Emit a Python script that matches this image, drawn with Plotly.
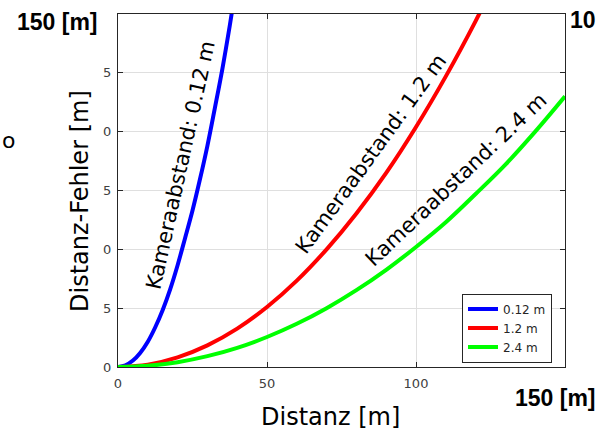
import plotly.graph_objects as go

# ---- data ----
distance_012 = [0, 2.5, 5, 7.5, 10, 12.5, 15, 17.5, 20, 22.5, 25, 27.5, 30, 32.5, 35, 37.5, 40]
error_012 = [0, 0.15, 0.55, 1.22, 2.15, 3.38, 4.85, 6.6, 8.65, 10.95, 13.3, 15.95, 18.8, 22.0, 25.3, 29.0, 33.0]

distance_12 = [0, 10, 20, 30, 40, 50, 60, 70, 80, 90, 100, 110, 120, 130]
error_12 = [0, 0.2, 0.82, 1.84, 3.26, 5.1, 7.34, 10.0, 13.05, 16.5, 20.4, 24.7, 29.4, 34.5]

distance_24 = [0, 10, 20, 30, 40, 50, 60, 70, 80, 90, 100, 110, 120, 130, 140, 150]
error_24 = [0, 0.1, 0.41, 0.92, 1.63, 2.55, 3.67, 5.0, 6.53, 8.26, 10.2, 12.3, 14.7, 17.2, 20.0, 23.0]

series_names = ["0.12 m", "1.2 m", "2.4 m"]
series_colors = ["#0000ff", "#ff0000", "#00ff00"]
curve_labels = ["Kameraabstand: 0.12 m", "Kameraabstand: 1.2 m", "Kameraabstand: 2.4 m"]
label_x = [21.1, 84.9, 113.3]
label_y = [17.15, 18.1, 15.9]
label_angle = [-77.5, -54, -43.5]

x_ticks = [0, 50, 100, 150]
x_ticklabels = ["0", "50", "100", ""]
y_ticks = [0, 5, 10, 15, 20, 25, 30]
y_ticklabels = ["0", "5", "10", "15", "20", "25", ""]

fig = go.Figure()
for xs, ys, name, col in zip([distance_012, distance_12, distance_24],
                             [error_012, error_12, error_24],
                             series_names, series_colors):
    fig.add_trace(go.Scatter(x=xs, y=ys, mode="lines", name=name,
                             line=dict(color=col, width=4, shape="spline")))

axis_common = dict(showline=True, linecolor="#262626", linewidth=1, mirror="ticks",
                   ticks="inside", ticklen=5, tickcolor="#262626",
                   showgrid=True, gridcolor="#dfdfdf", gridwidth=1,
                   zeroline=False, tickfont=dict(family="DejaVu Sans", size=13, color="#404040"))

fig.update_xaxes(range=[0, 150], tickvals=x_ticks, ticktext=x_ticklabels,
                 ticklabelstandoff=4, **axis_common)
fig.update_yaxes(range=[0, 30], tickvals=y_ticks, ticktext=y_ticklabels,
                 ticklabelstandoff=3, **axis_common)

annotations = []
for t, xv, yv, ang in zip(curve_labels, label_x, label_y, label_angle):
    annotations.append(dict(x=xv, y=yv, xref="x", yref="y", text=t, textangle=ang,
                            showarrow=False, font=dict(family="DejaVu Sans", size=21, color="#000000")))

annotations += [
    dict(x=(330 - 118) / 447, y=(367 - 417) / 353, xref="paper", yref="paper", text="Distanz [m]",
         showarrow=False, xanchor="center", yanchor="middle",
         font=dict(family="DejaVu Sans", size=24, color="#000000")),
    dict(x=(80 - 118) / 447, y=(367 - 201) / 353, xref="paper", yref="paper", text="Distanz-Fehler [m]",
         textangle=-90, showarrow=False, xanchor="center", yanchor="middle",
         font=dict(family="DejaVu Sans", size=24, color="#000000")),
    dict(x=(15 - 118) / 447, y=(367 - 22) / 353, xref="paper", yref="paper", text="150 [m]",
         showarrow=False, xanchor="left", yanchor="middle",
         font=dict(family="Liberation Sans", size=23, color="#000000", weight="bold")),
    dict(x=(598 - 118) / 447, y=(367 - 20) / 353, xref="paper", yref="paper", text="10",
         showarrow=False, xanchor="right", yanchor="middle",
         font=dict(family="Liberation Sans", size=23, color="#000000", weight="bold")),
    dict(x=(598 - 118) / 447, y=(367 - 398) / 353, xref="paper", yref="paper", text="150 [m]",
         showarrow=False, xanchor="right", yanchor="middle",
         font=dict(family="Liberation Sans", size=23, color="#000000", weight="bold")),
    dict(x=(0 - 118) / 447, y=(367 - 140) / 353, xref="paper", yref="paper", text="o",
         showarrow=False, xanchor="left", yanchor="middle",
         font=dict(family="DejaVu Sans", size=22, color="#000000")),
]

fig.update_layout(
    width=598, height=432,
    margin=dict(l=118, r=33, t=14, b=65, autoexpand=False),
    paper_bgcolor="white", plot_bgcolor="white",
    font=dict(family="DejaVu Sans", color="#262626"),
    showlegend=True,
    legend=dict(x=(552 - 118) / 447, y=(367 - 328) / 353, xanchor="right", yanchor="middle",
                bgcolor="white", bordercolor="#262626", borderwidth=1,
                font=dict(family="DejaVu Sans", size=12, color="#262626"),
                itemwidth=30, tracegroupgap=0),
    annotations=annotations,
    shapes=[dict(type="rect", xref="paper", yref="paper",
                 x0=(30 - 118) / 447, x1=(103 - 118) / 447,
                 y0=(367 - 340) / 353, y1=(367 - 40) / 353,
                 fillcolor="white", line=dict(width=0), layer="above")],
)

fig.write_html("out.html", config={"displayModeBar": False},
               post_script="document.body.style.margin='0px';")
